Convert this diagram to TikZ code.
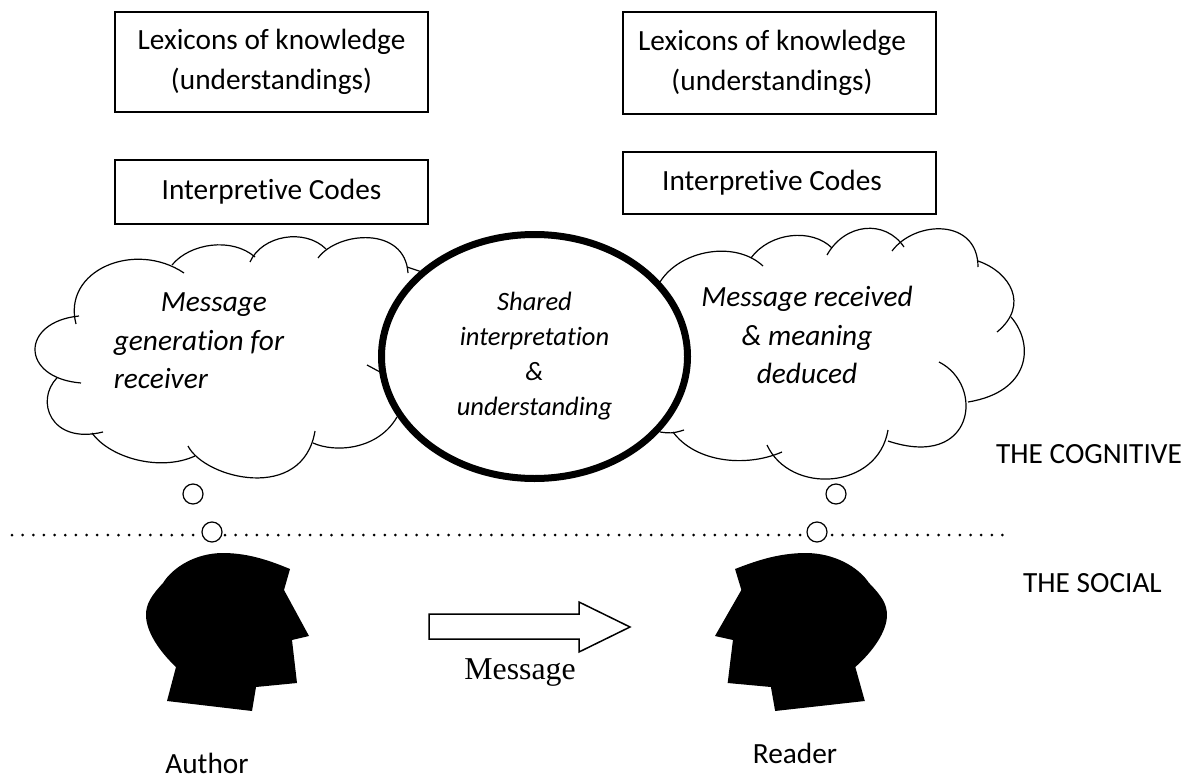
\documentclass[tikz,border=0pt]{standalone}
\usepackage{fontspec}
\usetikzlibrary{shapes.geometric}
\setmainfont[Ligatures=NoCommon]{Carlito}
\newfontfamily\serifmsg{Liberation Serif}
\tikzset{
    textbox/.style={draw, line width=1.5pt, align=center, font=\fontsize{29.3}{40}\selectfont},
    cloudline/.style={line width=1.2pt},
    bubble/.style={circle, draw, fill=white, line width=1.2pt, minimum size=20pt, inner sep=0pt},
    cloudtext/.style={font=\itshape\fontsize{29.3}{38.5}\selectfont},
    sidelabel/.style={inner sep=0pt, font=\fontsize{29.3}{32}\selectfont},
    head/.pic={
        \fill[black] (-19,-67) -- (-25,-46) -- (0,0) -- (-17,4) -- (-12,47) -- (-53,51)
            -- (-57,75) -- (-142,65) -- (-133,31)
            .. controls (-149,16) and (-163,-4) .. (-163,-21)
            .. controls (-163,-32) and (-158,-40) .. (-146,-53)
            .. controls (-136,-69) and (-113,-83) .. (-86,-83)
            .. controls (-59,-83) and (-36,-74) .. (-19,-67) -- cycle;
    }
}
\begin{document}
\begin{tikzpicture}[x=1pt, y=-1pt]
    \useasboundingbox (0, 0) rectangle (1193, 778);
    % Boxes
    \node[textbox, minimum width=313pt, minimum height=100pt] (LexiconA) at (271.5, 62) {Lexicons of knowledge\\(understandings)};
    \node[textbox, minimum width=313pt, minimum height=102pt] (LexiconB) at (779.5, 63) {Lexicons of knowledge\hspace*{15pt}\\(understandings)\hspace*{15pt}};
    \node[textbox, minimum width=313pt, minimum height=64pt] (CodesA) at (271.5, 192) {Interpretive Codes};
    \node[textbox, minimum width=313pt, minimum height=62pt] (CodesB) at (779.5, 183) {Interpretive Codes\hspace*{15pt}};
    % Left cloud
    \draw[cloudline] (76,324) .. controls (62,270) and (135,240) .. (184,273);
    \draw[cloudline] (79,316) .. controls (20,322) and (20,378) .. (81,383);
    \draw[cloudline] (57,378) .. controls (35,400) and (50,445) .. (103,432);
    \draw[cloudline] (92,433) .. controls (110,458) and (160,472) .. (195,456);
    \draw[cloudline] (188,446) .. controls (205,479) and (303,503) .. (315,431);
    \draw[cloudline] (313,443) .. controls (335,453) and (378,450) .. (397,417);
    \draw[cloudline] (172,265) .. controls (190,243) and (232,237) .. (255,257);
    \draw[cloudline] (250,262) .. controls (262,235) and (305,228) .. (326,249);
    \draw[cloudline] (318,258) .. controls (338,231) and (405,226) .. (408,273);
    \draw[cloudline] (407,267) -- (422,272);
    \draw[cloudline] (367,365) -- (380,372);
    % Right cloud
    \draw[cloudline] (660,282) .. controls (680,250) and (735,240) .. (763,266);
    \draw[cloudline] (751,258) .. controls (770,232) and (812,228) .. (832,248);
    \draw[cloudline] (827,255) .. controls (845,223) and (885,219) .. (904,247);
    \draw[cloudline] (892,251) .. controls (915,220) and (978,218) .. (978,267);
    \draw[cloudline] (978,261) .. controls (1010,272) and (1030,305) .. (997,332);
    \draw[cloudline] (1011,317) .. controls (1035,345) and (1030,392) .. (968,402);
    \draw[cloudline] (939,362) .. controls (985,385) and (975,470) .. (888,441);
    \draw[cloudline] (888,430) .. controls (878,490) and (790,495) .. (767,445);
    \draw[cloudline] (782,452) .. controls (745,468) and (695,462) .. (673,432);
    \draw[cloudline] (684,430) .. controls (672,434) and (668,433) .. (660,432);
    % Shared ellipse
    \node[ellipse, draw, fill=white, line width=7pt, minimum width=306pt, minimum height=244pt, align=center,
        font=\itshape\fontsize{26.5}{35}\selectfont] (Shared) at (534.5, 356.5) {Shared\\interpretation\\\&\\understanding};
    % Cloud texts
    \node[cloudtext, align=left] (SenderText) at (199, 341) {\hspace*{47pt}Message\\generation for\\receiver};
    \node[cloudtext, align=center] (ReceiverText) at (807, 335) {Message received\\\& meaning\\deduced};
    % Divider
    \coordinate (DivStart) at (12, 535);
    \coordinate (DivEnd) at (1005, 535);
    \draw[line width=3pt, line cap=round, dash pattern=on 0pt off 10.65pt] (DivStart) -- (DivEnd);
    % Bubbles
    \node[bubble] (BubbleA1) at (193, 494) {};
    \node[bubble] (BubbleA2) at (212, 532) {};
    \node[bubble] (BubbleB1) at (836, 494) {};
    \node[bubble] (BubbleB2) at (817, 532) {};
    % Heads
    \pic at (309, 636) {head};
    \pic[xscale=-1.055] at (715, 636) {head};
    % Message arrow
    \draw[line width=1.5pt, fill=white] (429, 614) -- (579, 614) -- (579, 602) -- (630, 627)
        -- (579, 652) -- (579, 639) -- (429, 639) -- cycle;
    \node[font=\serifmsg\fontsize{31.8}{34}\selectfont] (MessageLabel) at (520, 673) {Message};
    % Labels
    \node[sidelabel] (AuthorLabel) at (207, 763) {Author};
    \node[sidelabel] (ReaderLabel) at (795, 753) {Reader};
    \node[sidelabel, anchor=west] (Cognitive) at (996, 454) {THE COGNITIVE};
    \node[sidelabel, anchor=west] (Social) at (1023, 583) {THE SOCIAL};
\end{tikzpicture}
\end{document}
